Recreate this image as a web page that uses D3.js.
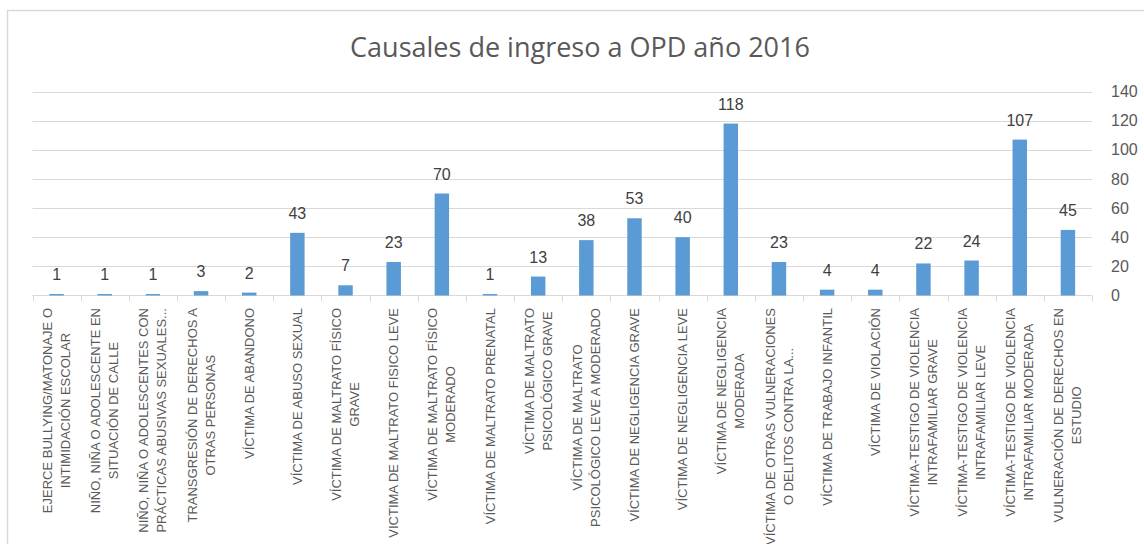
<!DOCTYPE html>
<html>
<head>
<meta charset="utf-8">
<script src="https://cdn.jsdelivr.net/npm/d3@7"></script>
<style>
  body { margin: 0; background: #fff; }
  svg { display: block; font-family: "Liberation Sans", Arial, sans-serif; }
</style>
</head>
<body>
<script>
// categorias (lineas separadas por \n como en el grafico original)
var categorias = [
	"EJERCE BULLYING/MATONAJE O\nINTIMIDACIÓN ESCOLAR",
	"NIÑO, NIÑA O ADOLESCENTE EN\nSITUACIÓN DE CALLE",
	"NIÑO, NIÑA O ADOLESCENTES CON\nPRÁCTICAS ABUSIVAS SEXUALES...",
	"TRANSGRESIÓN DE DERECHOS A\nOTRAS PERSONAS",
	"VÍCTIMA DE ABANDONO",
	"VÍCTIMA DE ABUSO SEXUAL",
	"VÍCTIMA DE MALTRATO FÍSICO\nGRAVE",
	"VICTIMA DE MALTRATO FISICO LEVE",
	"VÍCTIMA DE MALTRATO FÍSICO\nMODERADO",
	"VÍCTIMA DE MALTRATO PRENATAL",
	"VÍCTIMA DE MALTRATO\nPSICOLÓGICO GRAVE",
	"VÍCTIMA DE MALTRATO\nPSICOLÓGICO LEVE A MODERADO",
	"VÍCTIMA DE NEGLIGENCIA GRAVE",
	"VÍCTIMA DE NEGLIGENCIA LEVE",
	"VÍCTIMA DE NEGLIGENCIA\nMODERADA",
	"VÍCTIMA DE OTRAS VULNERACIONES\nO DELITOS CONTRA LA...",
	"VÍCTIMA DE TRABAJO INFANTIL",
	"VÍCTIMA DE VIOLACIÓN",
	"VÍCTIMA-TESTIGO DE VIOLENCIA\nINTRAFAMILIAR GRAVE",
	"VÍCTIMA-TESTIGO DE VIOLENCIA\nINTRAFAMILIAR LEVE",
	"VÍCTIMA-TESTIGO DE VIOLENCIA\nINTRAFAMILIAR MODERADA",
	"VULNERACIÓN DE DERECHOS EN\nESTUDIO"
];
var valores = [1, 1, 1, 3, 2, 43, 7, 23, 70, 1, 13, 38, 53, 40, 118, 23, 4, 4, 22, 24, 107, 45];
var ticksY = [0, 20, 40, 60, 80, 100, 120, 140];
var titulo = "Causales de ingreso a OPD año 2016";

var width = 1144,
	height = 544;

var svg = d3.select('body').append('svg')
	.attr('width', width)
	.attr('height', height);

// marco del grafico
svg.append('path')
	.attr('d', 'M7.5,' + height + 'V10.5H' + width)
	.attr('fill', 'none')
	.attr('stroke', '#d9d9d9')
	.attr('stroke-width', 1.5);

svg.append('text')
	.attr('x', 580)
	.attr('y', 57)
	.attr('text-anchor', 'middle')
	.attr('fill', '#595959')
	.style('font-family', '"Open Sans", sans-serif')
	.style('font-size', '27px')
	.text(titulo);

var x = d3.scaleBand()
	.domain(d3.range(categorias.length))
	.range([32.5, 1092]);

var y = d3.scaleLinear()
	.domain([0, 140])
	.range([295.5, 91.5]);

// lineas de cuadricula
svg.selectAll('.grid')
	.data(ticksY.slice(1))
	.enter().append('line')
	.attr('class', 'grid')
	.attr('x1', x.range()[0])
	.attr('x2', x.range()[1])
	.attr('y1', function (d) { return Math.round(y(d)) + 0.5; })
	.attr('y2', function (d) { return Math.round(y(d)) + 0.5; })
	.attr('stroke', '#d9d9d9');

// eje y a la derecha
svg.selectAll('.ylab')
	.data(ticksY)
	.enter().append('text')
	.attr('class', 'ylab')
	.attr('x', 1111)
	.attr('y', function (d) { return y(d); })
	.attr('dy', '0.35em')
	.attr('fill', '#595959')
	.style('font-size', '16px')
	.text(function (d) { return d; });

// eje x
var xAxis = svg.append('g');
xAxis.append('line')
	.attr('x1', x.range()[0])
	.attr('x2', x.range()[1])
	.attr('y1', 295.5)
	.attr('y2', 295.5)
	.attr('stroke', '#d9d9d9');
xAxis.selectAll('.tick')
	.data(d3.range(categorias.length + 1))
	.enter().append('line')
	.attr('class', 'tick')
	.attr('x1', function (d) { return Math.round(x.range()[0] + d * x.bandwidth()) + 0.5; })
	.attr('x2', function (d) { return Math.round(x.range()[0] + d * x.bandwidth()) + 0.5; })
	.attr('y1', 295.5)
	.attr('y2', 301.5)
	.attr('stroke', '#d9d9d9');

// barras
var bw = x.bandwidth() * 0.3;
svg.selectAll('.bar')
	.data(valores)
	.enter().append('rect')
	.attr('class', 'bar')
	.attr('x', function (d, i) { return x(i) + (x.bandwidth() - bw) / 2; })
	.attr('y', function (d) { return y(d); })
	.attr('width', bw)
	.attr('height', function (d) { return y(0) - y(d); })
	.attr('fill', '#5b9bd5');

// etiquetas de datos
svg.selectAll('.dlab')
	.data(valores)
	.enter().append('text')
	.attr('class', 'dlab')
	.attr('x', function (d, i) { return x(i) + x.bandwidth() / 2; })
	.attr('y', function (d) { return y(d) - 14; })
	.attr('text-anchor', 'middle')
	.attr('fill', '#404040')
	.style('font-size', '16px')
	.text(function (d) { return d; });

// etiquetas de categoria, giradas y alineadas arriba
var lineH = 18;
var cats = svg.selectAll('.cat')
	.data(categorias)
	.enter().append('text')
	.attr('class', 'cat')
	.attr('text-anchor', 'middle')
	.attr('fill', '#595959')
	.style('font-size', '13px');

cats.each(function (d) {
	var lines = d.split('\n');
	var t = d3.select(this);
	lines.forEach(function (l, k) {
		t.append('tspan')
			.attr('x', 0)
			.attr('y', (k - (lines.length - 1) / 2) * lineH)
			.attr('dy', '0.35em')
			.text(l);
	});
});

cats.attr('transform', function (d, i) {
	var maxLen = 0;
	d3.select(this).selectAll('tspan').each(function () {
		maxLen = Math.max(maxLen, this.getComputedTextLength());
	});
	var cx = x(i) + x.bandwidth() / 2;
	return 'translate(' + cx + ',' + (308 + maxLen / 2) + ') rotate(-90)';
});
</script>
</body>
</html>
